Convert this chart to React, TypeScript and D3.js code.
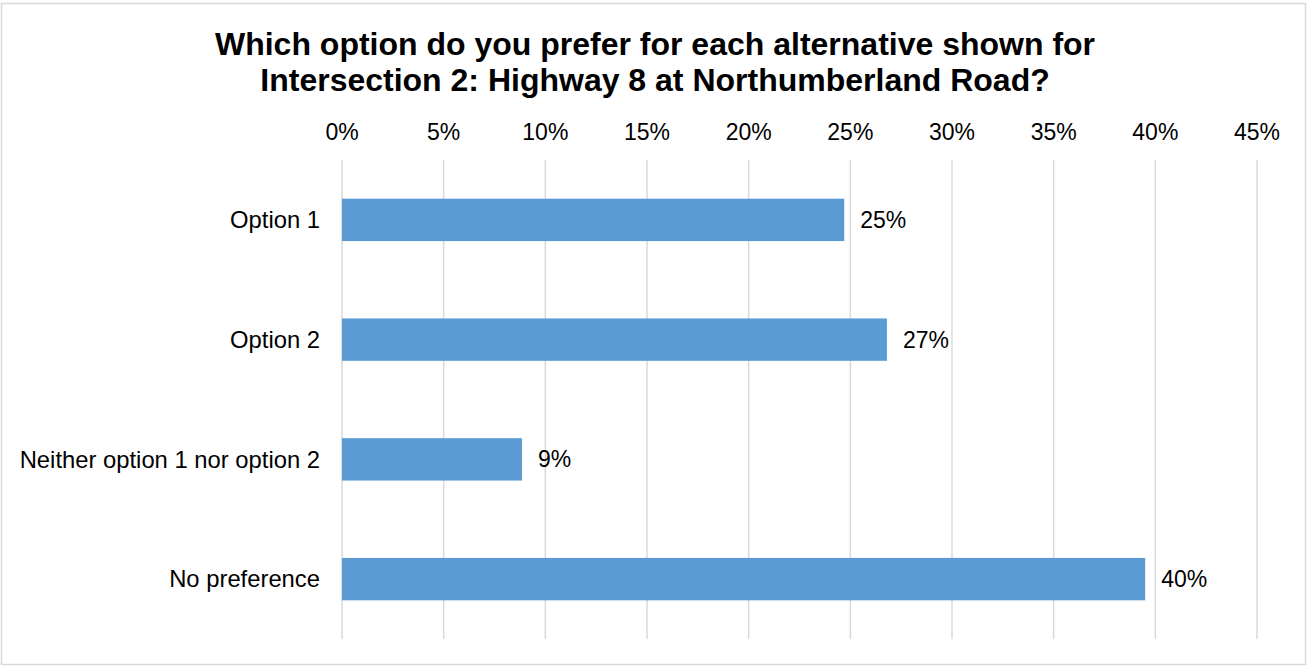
import React from "react";
import * as d3 from "d3";

const categories = ["Option 1", "Option 2", "Neither option 1 nor option 2", "No preference"];
const values = [24.7, 26.8, 8.85, 39.5];
const valueLabels = ["25%", "27%", "9%", "40%"];
const tickValues = [0, 5, 10, 15, 20, 25, 30, 35, 40, 45];
const titleLines = [
  "Which option do you prefer for each alternative shown for",
  "Intersection 2: Highway 8 at Northumberland Road?",
];

const W = 1307;
const H = 666;
const FONT = "'Liberation Sans', Arial, sans-serif";

export default function App() {
  const x = d3.scaleLinear().domain([0, 45]).range([342, 1257]);
  const y = d3
    .scaleBand<string>()
    .domain(categories)
    .range([160, 639])
    .paddingInner(0.646)
    .paddingOuter(0.323);

  return (
    <svg
      width={W}
      height={H}
      style={{ position: "absolute", left: 0, top: 0, background: "#fff" }}
      fontFamily={FONT}
    >
      <rect x={1.5} y={3.5} width={W - 3} height={H - 5} fill="#fff" stroke="#d9d9d9" strokeWidth={1.5} />
      {titleLines.map((t, i) => (
        <text key={i} x={655} y={55 + i * 35.5} textAnchor="middle" fontSize={32} fontWeight="bold" fill="#000">
          {t}
        </text>
      ))}
      {tickValues.map((v) => (
        <g key={v}>
          <line x1={x(v)} x2={x(v)} y1={160} y2={639} stroke="#d9d9d9" strokeWidth={1.5} />
          <text x={x(v)} y={139.5} textAnchor="middle" fontSize={23} fill="#000">
            {v}%
          </text>
        </g>
      ))}
      {categories.map((c, i) => {
        const y0 = y(c)!;
        const bw = y.bandwidth();
        return (
          <g key={c}>
            <rect x={x(0)} y={y0} width={x(values[i]) - x(0)} height={bw} fill="#5b9bd5" />
            <text x={320} y={y0 + bw / 2} dy="0.35em" textAnchor="end" fontSize={23.8} fill="#000">
              {c}
            </text>
            <text x={x(values[i]) + 16} y={y0 + bw / 2} dy="0.35em" textAnchor="start" fontSize={23} fill="#000">
              {valueLabels[i]}
            </text>
          </g>
        );
      })}
    </svg>
  );
}
